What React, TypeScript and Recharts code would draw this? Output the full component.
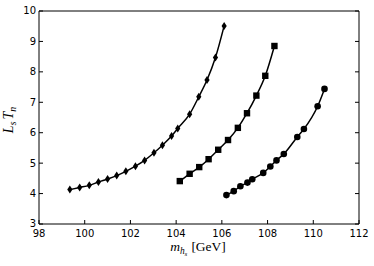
import React from "react";
import { ComposedChart, Line, XAxis, YAxis } from "recharts";

// values
const diamondX = [99.35, 99.78, 100.2, 100.6, 101.0, 101.4, 101.8, 102.22, 102.62, 103.03, 103.4, 103.8, 104.07, 104.59, 104.99, 105.35, 105.72, 106.1];
const diamondY = [4.13, 4.2, 4.27, 4.38, 4.48, 4.59, 4.73, 4.9, 5.09, 5.34, 5.59, 5.89, 6.14, 6.61, 7.18, 7.73, 8.47, 9.51];

const squareX = [104.16, 104.59, 105.01, 105.42, 105.84, 106.27, 106.7, 107.1, 107.51, 107.9, 108.3];
const squareY = [4.41, 4.65, 4.87, 5.13, 5.44, 5.76, 6.16, 6.64, 7.22, 7.87, 8.85];

const circleX = [106.2, 106.52, 106.81, 107.12, 107.33, 107.81, 108.12, 108.39, 108.71, 109.3, 109.59, 110.19, 110.49];
const circleY = [3.95, 4.08, 4.24, 4.36, 4.47, 4.68, 4.89, 5.09, 5.3, 5.86, 6.12, 6.87, 7.44];

const xTicks = [98, 100, 102, 104, 106, 108, 110, 112];
const yTicks = [3, 4, 5, 6, 7, 8, 9, 10];

const toPoints = (xs: number[], ys: number[]) => xs.map((x, i) => ({ x, y: ys[i] }));

const TICK = 4;
const LABEL_FONT = "'DejaVu Sans', sans-serif";
const MATH_FONT = "'Liberation Serif', serif";

const BottomTick = (p: any) => (
  <g>
    <line x1={p.x} x2={p.x} y1={p.y - 5} y2={p.y - 5 - TICK} stroke="#000" />
    <text x={p.x} y={p.y} dy="0.75em" textAnchor="middle" fontSize={10} fontFamily={LABEL_FONT} fill="#000">
      {p.payload.value}
    </text>
  </g>
);

const LeftTick = (p: any) => (
  <g>
    <line x1={p.x + 3} x2={p.x + 3 + TICK} y1={p.y} y2={p.y} stroke="#000" />
    <text x={p.x} y={p.y} dy="0.34em" textAnchor="end" fontSize={10} fontFamily={LABEL_FONT} fill="#000">
      {p.payload.value}
    </text>
  </g>
);

const TopTick = (p: any) => <line x1={p.x} x2={p.x} y1={p.y} y2={p.y + TICK} stroke="#000" />;
const RightTick = (p: any) => <line x1={p.x} x2={p.x - TICK} y1={p.y} y2={p.y} stroke="#000" />;

const diamondDot = (p: any) => (
  <path
    key={`d-${p.index}`}
    d={`M${p.cx},${p.cy - 4} L${p.cx + 2.6},${p.cy} L${p.cx},${p.cy + 4} L${p.cx - 2.6},${p.cy} Z`}
    fill="#000"
  />
);
const squareDot = (p: any) => <rect key={`s-${p.index}`} x={p.cx - 3.2} y={p.cy - 3.2} width={6.4} height={6.4} fill="#000" />;
const circleDot = (p: any) => <circle key={`c-${p.index}`} cx={p.cx} cy={p.cy} r={3.3} fill="#000" />;

export default function App() {
  return (
    <div style={{ position: "absolute", left: 0, top: 0, width: 374, height: 266, background: "#fff" }}>
      <ComposedChart width={374} height={266} margin={{ top: 10, right: 14, bottom: 22, left: 9 }}>
        <XAxis
          dataKey="x"
          type="number"
          domain={[98, 112]}
          ticks={xTicks}
          allowDataOverflow
          height={20}
          tickSize={0}
          tickMargin={5}
          tick={BottomTick}
          axisLine={{ stroke: "#000" }}
        />
        <XAxis
          xAxisId="top"
          orientation="top"
          type="number"
          domain={[98, 112]}
          ticks={xTicks}
          allowDataOverflow
          height={1}
          tickSize={0}
          tickMargin={0}
          tick={TopTick}
          axisLine={{ stroke: "#000" }}
        />
        <YAxis
          type="number"
          domain={[3, 10]}
          ticks={yTicks}
          allowDataOverflow
          width={30}
          tickSize={0}
          tickMargin={3}
          tick={LeftTick}
          axisLine={{ stroke: "#000" }}
        />
        <YAxis
          yAxisId="right"
          orientation="right"
          type="number"
          domain={[3, 10]}
          ticks={yTicks}
          allowDataOverflow
          width={1}
          tickSize={0}
          tickMargin={0}
          tick={RightTick}
          axisLine={{ stroke: "#000" }}
        />
        <Line data={toPoints(diamondX, diamondY)} dataKey="y" type="monotone" stroke="#000" strokeWidth={1.5} dot={diamondDot} activeDot={false} isAnimationActive={false} />
        <Line data={toPoints(squareX, squareY)} dataKey="y" type="monotone" stroke="#000" strokeWidth={1.5} dot={squareDot} activeDot={false} isAnimationActive={false} />
        <Line data={toPoints(circleX, circleY)} dataKey="y" type="monotone" stroke="#000" strokeWidth={1.5} dot={circleDot} activeDot={false} isAnimationActive={false} />
      </ComposedChart>
      <div
        style={{
          position: "absolute",
          left: 10,
          top: 120,
          transform: "translate(-50%, -50%) rotate(-90deg)",
          fontFamily: MATH_FONT,
          fontStyle: "italic",
          fontSize: 14,
          whiteSpace: "nowrap",
          lineHeight: 1,
        }}
      >
        L<span style={{ fontSize: "0.7em", verticalAlign: "-0.3em" }}>s</span>
        <span style={{ marginLeft: 2 }}>T</span>
        <span style={{ fontSize: "0.7em", verticalAlign: "-0.3em" }}>n</span>
      </div>
      <div
        style={{
          position: "absolute",
          left: 198,
          top: 249,
          transform: "translate(-50%, -50%)",
          fontFamily: MATH_FONT,
          fontSize: 13.5,
          whiteSpace: "nowrap",
          lineHeight: 1,
        }}
      >
        <i>m</i>
        <span style={{ fontSize: "0.7em", verticalAlign: "-0.3em", fontStyle: "italic" }}>
          h<span style={{ fontSize: "0.75em", verticalAlign: "-0.25em" }}>s</span>
        </span>
        <span style={{ marginLeft: 4 }}>[GeV]</span>
      </div>
    </div>
  );
}
